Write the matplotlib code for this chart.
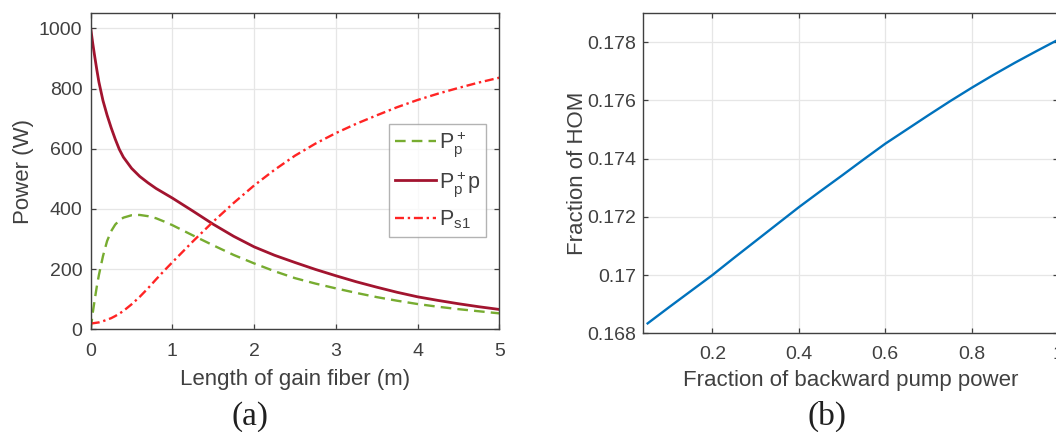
import matplotlib
matplotlib.use("Agg")
import matplotlib.pyplot as plt

plt.rcParams["font.family"] = ["Liberation Sans", "DejaVu Sans"]
plt.rcParams["mathtext.fontset"] = "custom"
plt.rcParams["mathtext.rm"] = "Liberation Sans"
plt.rcParams["mathtext.it"] = "Liberation Sans:italic"
plt.rcParams["mathtext.default"] = "regular"

TXT = "#404040"
GRID = "#e6e6e6"

# (a) power along the gain fiber
length_m = [0, 0.025, 0.05, 0.075, 0.1, 0.15, 0.2, 0.25, 0.3, 0.35, 0.4, 0.5, 0.6,
            0.7, 0.8, 0.9, 1.0, 1.25, 1.5, 1.75, 2.0, 2.25, 2.5, 2.75, 3.0, 3.25,
            3.5, 3.75, 4.0, 4.25, 4.5, 4.75, 5.0]
pump_fwd = [0, 55, 100, 143, 180, 243, 293, 326, 348, 362, 371, 379, 380,
            376, 369, 358, 346, 312, 279, 247, 219, 193, 170, 152, 136, 121,
            107, 95, 84, 75, 67, 60, 53]
pump_total = [1000, 950, 905, 862, 822, 760, 712, 670, 632, 598, 572, 535, 508,
              487, 468, 452, 436, 393, 349, 309, 274, 246, 222, 199, 178, 158,
              140, 123, 108, 96, 85, 75, 66]
signal_s1 = [20, 20, 21, 22, 23, 27, 32, 37, 44, 52, 61, 83, 108,
             136, 166, 195, 223, 292, 358, 420, 478, 530, 577, 617, 652, 683,
             711, 738, 762, 783, 802, 820, 836]
legend_labels = [r"$P_p^+$", r"$P_p^+p$", r"$P_{s1}$"]

# (b) HOM content vs. backward pump share
bwd_fraction = [0.05, 0.1, 0.15, 0.2, 0.25, 0.3, 0.35, 0.4, 0.45, 0.5,
                0.55, 0.6, 0.65, 0.7, 0.75, 0.8, 0.85, 0.9, 0.95, 1.0]
hom_fraction = [0.16834, 0.16890, 0.16945, 0.17000, 0.17059, 0.17117, 0.17175,
                0.17233, 0.17288, 0.17342, 0.17397, 0.17451, 0.17500, 0.17549,
                0.17597, 0.17643, 0.17687, 0.17729, 0.17769, 0.17808]


def style_axes(ax, xpad, ypad):
    ax.grid(True, color=GRID, lw=0.9)
    ax.set_axisbelow(True)
    for s in ax.spines.values():
        s.set_color(TXT)
        s.set_linewidth(1.0)
    ax.tick_params(direction="in", length=3.5, width=0.9, color=TXT,
                   labelcolor=TXT, labelsize=14, top=True, right=True)
    ax.tick_params(axis="x", pad=xpad)
    ax.tick_params(axis="y", pad=ypad)


fig = plt.figure(figsize=(10.56, 4.32), dpi=100)

ax1 = fig.add_axes([0.0859, 0.2377, 0.3869, 0.7315])
l1, = ax1.plot(length_m, pump_fwd, color="#77AC30", lw=1.7)
l1.set_dashes((4.5, 2.6))
l2, = ax1.plot(length_m, pump_total, color="#A2142F", lw=2.0)
l3, = ax1.plot(length_m, signal_s1, color="#FF2424", lw=1.7)
l3.set_dashes((3.8, 1.6, 1.0, 1.6))
ax1.set_xlim(0, 5)
ax1.set_ylim(0, 1050)
ax1.set_xticks(range(0, 6))
ax1.set_yticks(range(0, 1001, 200))
style_axes(ax1, 10, 6)
ax1.set_xlabel("Length of gain fiber (m)", fontsize=16, color=TXT)
ax1.set_ylabel("Power (W)", fontsize=16, color=TXT)
ax1.xaxis.set_label_coords(0.5, -0.127)
ax1.yaxis.set_label_coords(-0.138, 0.5)
leg = ax1.legend([l1, l2, l3], legend_labels, loc="upper left",
                 bbox_to_anchor=(0.731, 0.650), fontsize=15.5, frameon=True,
                 fancybox=False, edgecolor="#a0a0a0", handlelength=1.9,
                 handletextpad=0.15, borderpad=0.25, labelspacing=0.45,
                 borderaxespad=0)
leg.get_frame().set_linewidth(1.0)
for t in leg.get_texts():
    t.set_color(TXT)

ax2 = fig.add_axes([0.6092, 0.2285, 0.3927, 0.7414])
ax2.plot(bwd_fraction, hom_fraction, color="#0072BD", lw=1.7)
ax2.set_xlim(0.04, 1.0)
ax2.set_ylim(0.168, 0.179)
ax2.set_xticks([0.2, 0.4, 0.6, 0.8, 1.0])
ax2.set_xticklabels(["0.2", "0.4", "0.6", "0.8", "1"])
ax2.set_yticks([0.168, 0.17, 0.172, 0.174, 0.176, 0.178])
ax2.set_yticklabels(["0.168", "0.17", "0.172", "0.174", "0.176", "0.178"])
style_axes(ax2, 9, 5)
ax2.set_xlabel("Fraction of backward pump power", fontsize=16, color=TXT)
ax2.set_ylabel("Fraction of HOM", fontsize=16, color=TXT)
ax2.xaxis.set_label_coords(0.5, -0.115)
ax2.yaxis.set_label_coords(-0.134, 0.5)

fig.text(250 / 1056, 7 / 432, "(a)", ha="center", va="baseline",
         fontsize=24, family="Liberation Serif", color="#202020")
fig.text(826.7 / 1056, 7 / 432, "(b)", ha="center", va="baseline",
         fontsize=24, family="Liberation Serif", color="#202020")

fig.savefig("out.png", dpi=100)
